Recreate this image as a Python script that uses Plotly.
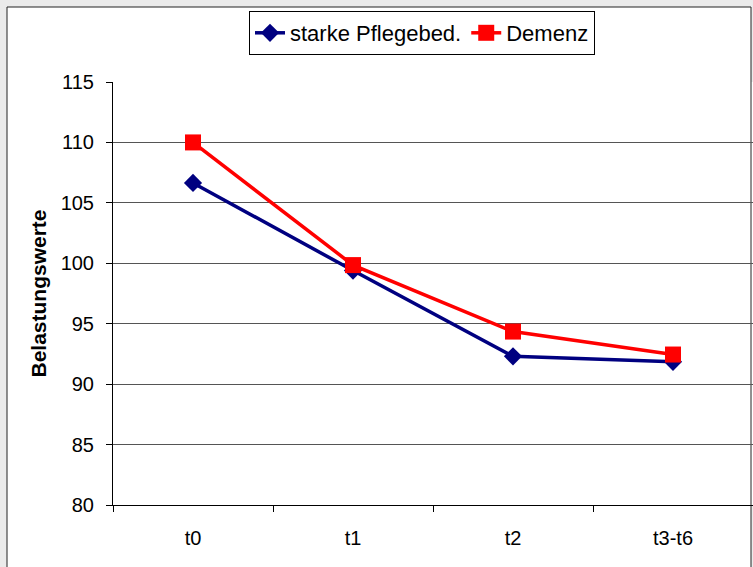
import plotly.graph_objects as go

categories = ["t0", "t1", "t2", "t3-t6"]
pflege = [106.65, 99.4, 92.3, 91.85]
demenz = [110.0, 99.85, 94.35, 92.45]
y_ticks = [80, 85, 90, 95, 100, 105, 110, 115]

W, H = 753, 567
L, R, T, B = 113, 0, 82, 62
pw, ph = W - L - R, H - T - B

def px_x(p):
    return (p - L) / pw

def px_y(p):
    return 1 - (p - T) / ph

fig = go.Figure()
fig.add_trace(go.Scatter(
    x=categories, y=pflege, name="starke Pflegebed.", mode="lines+markers",
    line=dict(color="#000080", width=3.5),
    marker=dict(symbol="diamond", size=14, color="#000080"),
))
fig.add_trace(go.Scatter(
    x=categories, y=demenz, name="Demenz", mode="lines+markers",
    line=dict(color="#ff0000", width=3.5),
    marker=dict(symbol="square", size=16, color="#ff0000"),
))

fig.add_shape(type="rect", xref="paper", yref="paper",
              x0=px_x(7), x1=px_x(751), y0=px_y(600), y1=px_y(7),
              line=dict(color="#222222", width=1), fillcolor="white", layer="below")

fig.update_layout(
    width=W, height=H,
    margin=dict(l=L, r=R, t=T, b=B, pad=0),
    paper_bgcolor="#ebebeb",
    plot_bgcolor="white",
    font=dict(family="Liberation Sans, Arial, sans-serif", size=20, color="black"),
    showlegend=True,
    legend=dict(
        orientation="h", x=px_x(249), y=px_y(11), xanchor="left", yanchor="top",
        bgcolor="white", bordercolor="black", borderwidth=1,
        font=dict(size=22), itemwidth=30, tracegroupgap=0,
    ),
    xaxis=dict(
        type="category", range=[-0.5, 3.5], tickson="boundaries",
        ticks="outside", ticklen=6, tickcolor="black",
        showline=True, linecolor="black", linewidth=1,
        showgrid=False, zeroline=False, fixedrange=True,
        tickfont=dict(size=20), ticklabelstandoff=15,
    ),
    yaxis=dict(
        range=[80, 115], tickvals=y_ticks, ticks="outside", ticklen=6,
        tickcolor="black", showline=True, linecolor="black", linewidth=1,
        showgrid=True, gridcolor="#555555", gridwidth=1, zeroline=False,
        tickfont=dict(size=20), ticklabelstandoff=8,
        title=dict(text="<b>Belastungswerte</b>", font=dict(size=21), standoff=8),
    ),
)

fig.write_html(
    "out.html",
    config={"displayModeBar": False},
    post_script="document.body.style.margin='0';document.body.style.background='#ebebeb';document.body.style.overflow='hidden';",
)
